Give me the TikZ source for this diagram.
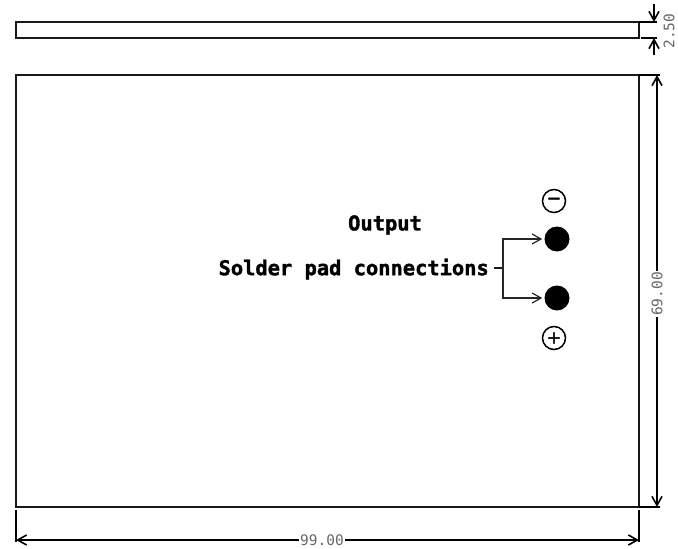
\documentclass[tikz,border=0pt]{standalone}
\usepackage{fontspec}
\setmonofont{DejaVu Sans Mono}
\newfontfamily\notefont[BoldFeatures={FakeBold=1.6}]{DejaVu Sans Mono}
\newfontfamily\polarfont[FakeBold=3]{DejaVu Sans}
\usetikzlibrary{positioning,arrows.meta}
\tikzset{outl/.style={draw=black!90, line width=1.1pt}}
\tikzset{ext/.style={draw=black, line width=1.5pt}}
\tikzset{dimarr/.style={draw=black, line width=1.6pt, -{Straight Barb[length=9pt,width=10pt,line width=1.6pt]}}}
\tikzset{leadarr/.style={draw=black!85, line width=1.2pt, -{Straight Barb[length=9pt,width=10pt]}}}
\tikzset{dimlab/.style={font=\ttfamily\fontsize{14.5}{14.5}\selectfont, text=black!60, inner sep=1pt}}
\tikzset{notelab/.style={font=\notefont\bfseries\fontsize{20.4}{20.4}\selectfont, inner sep=0pt}}
\tikzset{pad/.style={circle, fill=black, minimum size=25pt, inner sep=0pt}}
\tikzset{polar/.style={circle, draw=black, line width=1.5pt, minimum size=23pt, inner sep=0pt, font=\polarfont\fontsize{17}{17}\selectfont}}
\begin{document}
\begin{tikzpicture}[x=1pt,y=-1pt]
	\useasboundingbox (0,0) rectangle (678,549);
	\draw[outl] (16,22) rectangle (639,38);
	\draw[outl] (16,75) rectangle (639,507);
	% extension lines
	\coordinate (sTop) at (639,22);
	\coordinate (sBot) at (639,38);
	\coordinate (bTop) at (639,75);
	\coordinate (bBot) at (639,507);
	\coordinate (bLeft) at (16,510);
	\coordinate (bRight) at (639,510);
	\draw[ext] (sTop) -- ++(18,0);
	\draw[ext] (sBot) ++(2,0) -- ++(16,0);
	\draw[ext] (bTop) -- ++(21,0);
	\draw[ext] (bBot) -- ++(21,0);
	\draw[ext] (bLeft) -- ++(0,32);
	\draw[ext] (bRight) -- ++(0,32);
	% 2.50
	\node[dimlab, rotate=90] (hgt) at (669,31) {2.50};
	\coordinate (hA) at (654,4);
	\coordinate (hB) at (654,55);
	\draw[dimarr] (hA) -- (sTop -| hA);
	\draw[dimarr] (hB) -- (sBot -| hB);
	% 69.00
	\node[dimlab, rotate=90] (vert) at (657,294) {69.00};
	\draw[dimarr] (vert) -- (bTop -| vert);
	\draw[dimarr] (vert) -- (bBot -| vert);
	% 99.00
	\node[dimlab] (horiz) at (322,540) {99.00};
	\draw[dimarr] (horiz) -- (bLeft |- horiz);
	\draw[dimarr] (horiz) -- (bRight |- horiz);
	% pads
	\node[pad] (padA) at (557,239) {};
	\node[pad] (padB) at (557,298) {};
	\node[polar] (minus) at (554,201) {−};
	\node[polar] (plus) at (554,338) {+};
	% notes
	\node[notelab] (out) at (385,225) {Output};
	\node[notelab, anchor=east] (solder) at (489,269) {Solder pad connections};
	\coordinate (jn) at (503,268);
	\draw[outl] (solder.east |- jn) ++(5,0) -- (jn);
	\draw[leadarr] (jn) |- ([xshift=-2pt]padA.west);
	\draw[leadarr] (jn) |- ([xshift=-2pt]padB.west);
\end{tikzpicture}
\end{document}
